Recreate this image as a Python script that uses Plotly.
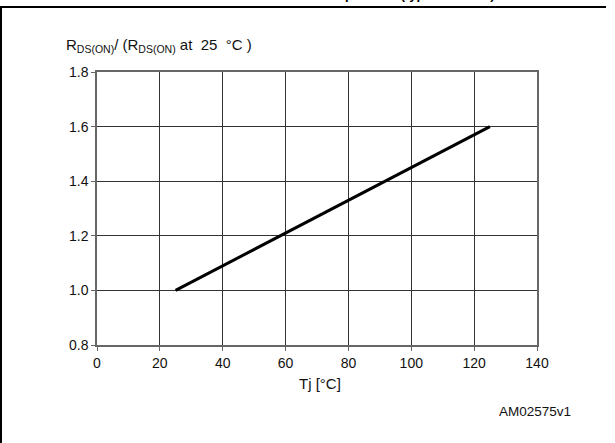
import plotly.graph_objects as go

# Data
tj = [25, 60, 92, 125]
rds_norm = [1.00, 1.21, 1.40, 1.60]
x_ticks = [0, 20, 40, 60, 80, 100, 120, 140]
y_ticks = [0.8, 1.0, 1.2, 1.4, 1.6, 1.8]
y_tick_labels = ["0.8", "1.0", "1.2", "1.4", "1.6", "1.8"]

W, H = 615, 443
ML, MR, MT, MB = 97, 78, 72, 98
FONT = "Liberation Sans, Arial, sans-serif"

fig = go.Figure()
fig.add_trace(go.Scatter(
    x=tj, y=rds_norm, mode="lines",
    line=dict(color="black", width=3),
    showlegend=False, hoverinfo="skip",
))

axis_common = dict(
    showgrid=True, gridcolor="#333", gridwidth=1,
    showline=True, linecolor="#666", linewidth=1.5, mirror=True,
    ticks="outside", ticklen=4, tickcolor="#666", tickwidth=1,
    zeroline=False,
    tickfont=dict(family=FONT, size=14, color="#111"),
)

fig.update_xaxes(range=[0, 140], tickvals=x_ticks, ticklabelstandoff=0, **axis_common)
fig.update_yaxes(range=[0.8, 1.8], tickvals=y_ticks, ticktext=y_tick_labels, **axis_common)

def px_x(p):
    return (p - ML) / (W - ML - MR)

def px_y(p):
    return 1 - (p - MT) / (H - MT - MB)

annotations = [
    dict(text="R<sub>DS(ON)</sub>/ (R<sub>DS(ON)</sub> at  25  °C )",
         x=px_x(64), y=px_y(46), xref="paper", yref="paper",
         xanchor="left", yanchor="middle", showarrow=False,
         font=dict(family=FONT, size=15, color="#111")),
    dict(text="Tj [°C]",
         x=px_x(320), y=px_y(383), xref="paper", yref="paper",
         xanchor="center", yanchor="middle", showarrow=False,
         font=dict(family=FONT, size=15, color="#111")),
    dict(text="AM02575v1",
         x=px_x(573), y=px_y(411), xref="paper", yref="paper",
         xanchor="right", yanchor="middle", showarrow=False,
         font=dict(family=FONT, size=13.5, color="#111")),
    dict(text="<b>Normalized on-resistance vs temperature (typical values)</b>",
         x=px_x(318), y=px_y(4), xref="paper", yref="paper",
         xanchor="center", yanchor="bottom", showarrow=False,
         font=dict(family=FONT, size=13, color="black")),
]

shapes = [
    dict(type="line", xref="paper", yref="paper",
         x0=px_x(0), x1=px_x(606), y0=px_y(7), y1=px_y(7),
         line=dict(color="black", width=2)),
    dict(type="line", xref="paper", yref="paper",
         x0=px_x(1), x1=px_x(1), y0=px_y(7), y1=px_y(445),
         line=dict(color="black", width=2)),
]

fig.update_layout(
    width=W, height=H,
    margin=dict(l=ML, r=MR, t=MT, b=MB),
    paper_bgcolor="white", plot_bgcolor="white",
    annotations=annotations, shapes=shapes,
    font=dict(family=FONT),
)

fig.write_html(
    "out.html",
    config={"displayModeBar": False},
    post_script="document.body.style.margin='0';document.body.style.overflow='hidden';",
)
